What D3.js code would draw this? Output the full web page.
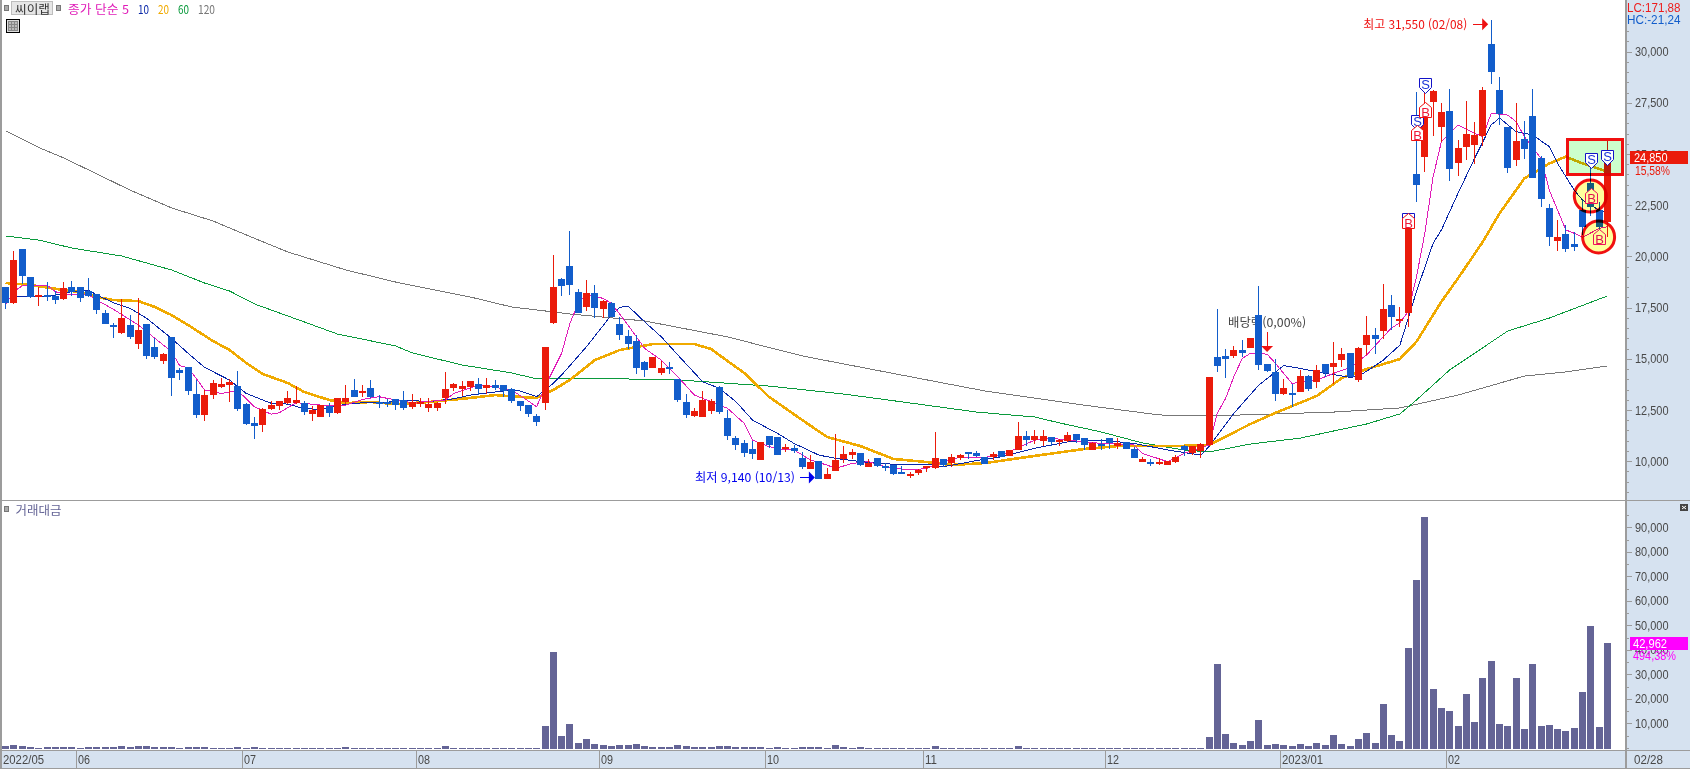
<!DOCTYPE html>
<html lang="ko">
<head>
<meta charset="utf-8">
<title>씨이랩</title>
<script src="https://cdn.jsdelivr.net/npm/d3@7/dist/d3.min.js"></script>
<style>
html,body{margin:0;padding:0;background:#fff;overflow:hidden}
svg{display:block}
text{font-family:"Liberation Sans","Noto Sans CJK KR",sans-serif}
.ko{font-family:"Noto Sans CJK KR",sans-serif}
.crisp{shape-rendering:crispEdges}
</style>
</head>
<body>
<svg id="chart" width="1690" height="769"></svg>
<script>
const stockName = "씨이랩";
const legendItems = ["종가 단순 5","10","20","60","120"];
const opens = [18450,17660,20300,18940,17980,18060,18010,17860,18450,18450,18250,18100,17180,16590,16200,16590,15660,16640,15520,14830,16000,14390,14540,13220,12200,13170,13560,13660,13610,12730,11800,11710,12490,12630,12780,12780,12780,12240,12100,12630,12290,12830,13420,13320,13510,12830,12830,12980,12930,12590,12780,12540,12540,13030,13510,13470,13560,13710,13510,13660,13660,13470,12880,12680,12150,12780,16690,18840,19470,18200,17470,18150,17370,17660,16640,16050,15810,14780,14490,14250,14520,13950,12830,12150,12100,12390,13560,12050,11070,10830,10530,10000,11170,11120,10580,10580,10100,9560,9950,9080,9460,10050,10240,10340,9660,10100,9700,9750,9410,9270,9360,9610,9610,10050,9850,10100,10390,10340,10140,10140,10440,10190,10490,11170,10970,10930,11120,10880,10930,11270,11070,10490,10780,11070,10680,10880,10530,9900,9900,9820,9750,9900,10680,10340,10440,10730,15030,15080,15080,15370,15470,17080,14690,14300,13220,13270,13320,14100,13810,14690,14540,14880,15220,13900,15610,16100,16300,17570,16800,17190,23970,24810,27480,26260,27040,24500,25280,25380,25820,30310,28060,26260,24650,25670,26800,24740,22300,20690,21030,20540,22200,23520,22200,21600];
const highs = [18450,20200,20300,18940,18460,18690,18250,18690,18740,18450,18890,18100,17320,16690,17860,17080,17910,16640,15960,15220,16000,14490,14540,13900,13420,13900,14000,13950,14340,12780,12100,12540,12880,12880,13370,13610,12880,12630,12680,12780,13030,13660,13950,13660,13900,13170,12980,12980,13370,13220,13030,13030,12830,14300,13760,13860,13860,14000,14000,13900,13660,13510,12880,12680,12240,15520,20010,18890,21180,18350,18790,18540,17810,17710,16980,16350,16100,14830,15030,14830,14780,13950,13220,12540,13370,12980,13610,12440,11170,10970,10930,10880,11170,11120,10780,10730,10390,10240,9950,9600,11270,10680,10530,10340,10050,10100,9850,9750,9700,9410,9560,9700,11370,10050,10290,10290,10390,10440,10140,10390,10440,10490,11850,11410,11460,11460,11120,11020,11370,11270,11070,10880,11020,11070,11070,10880,10630,10140,10060,10100,9950,10240,10730,10680,10830,14050,17370,15420,15560,15860,15960,18500,14690,14930,13950,13710,14390,14150,14640,14690,15760,15470,15220,15520,17030,16440,18590,18060,17490,21600,27970,27900,28060,27420,28110,25620,27530,26500,28210,31500,28700,26260,27430,26550,28110,24840,22500,21720,21470,21130,22700,24480,22600,25570];
const lows = [17370,17620,18590,17910,17520,17760,17620,17810,18010,17710,17960,17130,16640,15960,16150,15910,15420,14930,14930,14690,13120,13900,13170,12050,11900,12980,13510,12830,12390,11710,11020,11360,12440,12440,12730,12730,12200,11900,12100,12100,12240,12730,13070,13070,13030,12540,12590,12440,12440,12490,12590,12340,12390,12730,13370,13120,13370,13170,13220,13420,13070,12780,12390,12100,11660,12440,16640,18010,18060,17180,17280,16930,16930,16980,15860,15420,14200,14050,14490,14150,14200,12830,12050,12100,12100,12240,12240,10970,10490,10140,10050,10000,10580,10240,10390,10340,9560,9560,9070,9080,9460,9850,10050,9700,9660,9660,9460,9270,9310,9120,9270,9410,9560,9660,9660,10000,10050,10140,9800,10000,10140,10190,10490,10680,10780,10680,10680,10680,10880,10830,10490,10490,10490,10530,10530,10530,10100,9900,9700,9750,9750,9850,10190,10240,10100,10680,14300,14000,14980,15030,15470,14390,14300,12880,13170,12590,13320,13370,13510,14050,13710,14540,14050,13810,15130,15170,15910,16350,16510,16510,22610,24070,25820,25540,23620,23870,24650,24450,25330,28360,26360,24010,24350,24700,23770,22350,20450,20200,20150,20200,21000,21900,20870,20870];
const closes = [17660,19770,18980,17960,18040,17960,17810,18400,18200,17910,18010,17320,16640,16490,16930,16000,16350,15080,15030,15170,14000,14250,13370,12200,13170,13760,13710,13810,12490,11760,11660,12490,12680,12880,13030,12930,12340,12440,12680,12290,13030,13030,13070,13370,13070,12780,12770,12680,12540,12830,12830,12730,12780,13470,13710,13610,13860,13470,13660,13510,13370,12880,12630,12240,11850,15520,18450,18500,18540,17180,18150,17420,17760,16980,16100,15660,14490,14390,15030,14490,14430,12930,12200,12390,12930,12880,12340,11170,10730,10340,10290,10880,10730,10240,10630,10440,9660,9900,9070,9310,10000,10290,10390,9750,9850,9700,9660,9310,9360,9310,9510,9700,10100,9750,10140,10240,10290,10190,9800,10290,10140,10490,11170,10970,11170,11170,10880,10970,11220,10970,10730,10830,10730,10830,10830,10530,10100,10050,9850,9900,9950,10140,10490,10680,10780,14050,14590,14930,15370,15220,15960,14640,14340,13220,13510,13170,14100,13470,14390,14250,14740,15170,14050,15470,16100,15910,17370,17000,16870,21310,23430,26760,28020,26990,24210,25230,25920,25870,28060,28940,26890,24260,25570,25180,23770,22740,20890,20890,20300,20400,21370,22370,21370,24850];
const volumes = [735,1140,735,330,100,330,330,330,330,100,330,330,330,330,735,330,735,735,330,330,330,100,330,330,330,100,100,100,330,100,330,100,100,100,100,100,100,100,100,100,100,330,100,100,100,100,100,100,100,100,100,100,100,735,100,100,100,100,100,100,100,100,100,100,100,8900,39100,4810,9720,1960,3620,1550,1140,735,1140,1140,1550,735,330,330,330,1140,735,330,300,300,733,733,300,300,300,300,100,300,100,100,300,300,300,100,1140,400,100,400,100,100,100,100,100,100,100,100,733,100,100,100,100,100,100,100,100,100,733,100,100,100,100,100,100,100,100,100,100,100,100,100,100,100,100,100,100,100,100,100,100,4422,34216,5646,1973,1156,2789,11360,1156,1565,1156,748,1565,748,1973,1156,5238,1565,748,3605,6054,1973,17890,5238,2789,40747,68500,94214,24013,16258,15034,8911,21972,10544,28503,35441,9728,8911,28503,7687,34216,8911,9320,7687,6871,8095,22788,49727,8503,42962];

const ma5Idx = [0,1,2,3,4,5,6,7,10,11,13,16,18,20,21,22,24,26,28,30,32,33,35,38,41,43,45,47,49,53,54,57,61,64,65,67,68,69,70,72,73,75,77,79,81,83,85,87,89,90,92,94,95,97,99,100,102,104,106,109,111,113,115,118,120,124,126,130,132,134,136,137,140,142,145,146,147,148,149,150,152,153,155,158,160,162,164,166,167,168,169,170,171,172,173,175,177,178,179,181,182,183,185,186,188,189,190,192,193];
const ma5Val = [17570,18220,18500,18510,18510,18540,18220,18100,18060,17810,17360,16590,15940,15290,14600,14510,13420,13250,13380,12600,12240,12310,12800,12680,12680,12960,13090,12930,12800,12930,13250,13660,13420,12600,13580,15210,16670,17650,18100,17890,17650,16590,15450,14880,14070,13170,12850,12520,11790,10970,10650,10490,10490,10000,9750,9590,9830,9920,9670,9510,9590,9920,10130,10130,10240,10970,11060,10890,10810,10780,10730,10320,9920,10320,10730,12280,13010,14070,14960,15210,15170,14720,13740,13900,14230,14510,15130,16020,16450,16700,17240,18950,21070,23830,25540,26360,25950,25790,26930,26840,26520,25790,24730,23180,21230,21070,20870,21310,21390];
const ma10Idx = [1,5,6,8,10,11,13,15,17,20,22,24,27,29,32,34,36,38,41,44,45,48,51,54,56,60,62,64,66,67,70,73,74,75,77,79,81,84,86,88,90,93,95,98,100,103,107,111,113,117,120,124,128,132,136,140,144,145,148,151,154,156,159,162,163,166,168,169,170,172,173,175,177,179,180,182,184,186,187,189,190,192,193];
const ma10Val = [17980,18010,18060,18220,18300,18060,17680,17410,16920,15940,15210,14520,13900,13250,12770,12730,12510,12470,12720,12830,12770,12930,12850,12990,13170,13370,13370,13090,13740,14150,15530,17080,17450,17520,16750,16020,15130,13820,13500,12850,11950,11300,10810,10240,10080,9920,9790,9790,9670,9970,10160,10570,10890,10970,10810,10490,10240,10650,12280,13660,14610,14470,14230,14040,14070,14880,15610,16920,18230,20580,21230,23020,24730,26360,26700,26030,25870,25300,24480,23180,22690,22200,22040];
const ma20Idx = [0,3,5,7,9,11,13,16,18,20,22,25,27,29,31,34,36,39,41,44,47,51,56,59,62,64,66,68,71,74,78,83,85,87,89,92,96,99,103,107,111,114,118,124,130,134,141,145,150,153,158,161,164,168,170,173,175,178,180,181,183,186,188,190,193];
const ma20Val = [18640,18550,18420,18300,18200,17960,17810,17760,17470,17080,16590,15810,15370,14740,14200,13760,13320,12930,12780,12830,12730,12830,13030,13170,13080,13030,13420,13910,14880,15370,15660,15660,15420,14830,14250,13080,11950,11120,10680,10050,9900,9760,9850,10200,10540,10680,10680,10730,11760,12300,13130,14000,14440,14930,15780,17730,18870,20660,22040,22610,23750,24480,24810,24480,24080];
const ma60Idx = [0,4,8,14,20,24,27,30,36,40,47,49,55,61,64,66,75,76,81,92,101,110,117,124,127,132,137,142,145,150,156,164,168,170,174,181,186,193];
const ma60Val = [20940,20740,20350,19960,19280,18640,18250,17620,16740,16150,15570,15230,14640,14250,13960,13960,13960,13910,13910,13610,13220,12730,12340,12100,11810,11370,10830,10490,10390,10780,11070,11760,12250,12930,14400,16300,16930,18010];
const ma120Idx = [0,4,7,11,15,20,25,29,34,41,47,53,56,61,66,68,77,87,96,106,118,129,139,145,153,160,168,175,183,188,193];
const ma120Val = [26070,25260,24750,23970,23180,22310,21670,20990,20160,19280,18690,18200,17960,17470,17230,17130,16790,16010,15080,14300,13370,12730,12200,12150,12250,12340,12540,13170,14100,14300,14590];

const priceMajor = [10000,12500,15000,17500,20000,22500,25000,27500,30000];
const volumeMajor = [10000,20000,30000,40000,50000,60000,70000,80000,90000];
const monthIdx = [0,9,29,50,72,92,111,133,154,174];
const monthLabels = ["2022/05","06","07","08","09","10","11","12","2023/01","02"];
const lastDateLabel = "02/28";

const sellIdx = [169,170,171,191,193];
const sellVal = [21330,26130,27920,24260,24400];
const buyIdx = [169,170,171,191,192];
const buyVal = [22060,26360,27480,23270,21280];
const circleIdx = [191,192];
const circleVal = [22890,20890];
const boxIdx = [188,195];
const boxVal = [25720,23870];

const W=1690,H=769,axisX=1625;
const COL={red:"#ea1b0b",blue:"#125dcb",vol:"#646496",bg:"#d6e2f0",line:"#9c9c9c",txt:"#484848",mag:"#ff00ff",pure:"#f01010"};
const svg=d3.select("#chart");
const x=d3.scaleLinear().domain([0,193]).range([5.5,1607.4]);
const y=d3.scaleLinear().domain([10000,30000]).range([460,50.4]);
const yVol=d3.scaleLinear().domain([0,90000]).range([747.8,527.3]);
const fmt=d3.format(",");

function label(sel,o){
  const t=sel.append("text").attr("x",o.x).attr("y",o.y).attr("dy","0.36em").attr("fill",o.fill)
    .attr("font-size",o.size||13).text(o.text);
  if(o.ko) t.attr("class","ko");
  if(o.len) t.attr("textLength",o.len).attr("lengthAdjust","spacingAndGlyphs");
  if(o.anchor) t.attr("text-anchor",o.anchor);
  return t;
}

// backgrounds
svg.append("rect").attr("class","crisp").attr("x",axisX).attr("y",0).attr("width",W-axisX).attr("height",750).attr("fill",COL.bg);
svg.append("rect").attr("class","crisp").attr("x",0).attr("y",750).attr("width",W).attr("height",19).attr("fill",COL.bg);

// moving averages
const line=d3.line().x(d=>x(d[0])).y(d=>y(d[1]));
const maSeries=[
 {i:ma120Idx,v:ma120Val,c:"#777777",w:1},
 {i:ma60Idx,v:ma60Val,c:"#0a9a3c",w:1},
 {i:ma20Idx,v:ma20Val,c:"#f0aa00",w:2.6},
 {i:ma10Idx,v:ma10Val,c:"#0a28a8",w:1},
 {i:ma5Idx,v:ma5Val,c:"#e01cb8",w:1}];
svg.append("g").attr("class","mas").selectAll("path").data(maSeries).join("path")
 .attr("class","crisp").attr("fill","none").attr("stroke",d=>d.c).attr("stroke-width",d=>d.w)
 .attr("d",d=>line(d.i.map((k,n)=>[k,d.v[n]])));

// dividend note sits under the candles
const divX=x(152), divTop=y(16250);
label(svg.append("g"),{x:divX-39,y:divTop-9,fill:"#444",text:"배당락(0,00%)",ko:true,size:12,len:78});

// candles
const idx=d3.range(opens.length);
const left=i=>Math.round(x(i)-3.5);
const cg=svg.append("g").attr("class","candles crisp");
cg.selectAll("line").data(idx).join("line")
 .attr("x1",i=>left(i)+3.5).attr("x2",i=>left(i)+3.5)
 .attr("y1",i=>Math.round(y(highs[i]))).attr("y2",i=>Math.round(y(lows[i])))
 .attr("stroke",i=>closes[i]>=opens[i]?COL.red:COL.blue).attr("stroke-width",1);
cg.selectAll("rect").data(idx).join("rect")
 .attr("x",left).attr("width",7)
 .attr("y",i=>Math.round(y(Math.max(opens[i],closes[i]))))
 .attr("height",i=>Math.max(2,Math.round(y(Math.min(opens[i],closes[i])))-Math.round(y(Math.max(opens[i],closes[i])))))
 .attr("fill",i=>closes[i]>=opens[i]?COL.red:COL.blue);

// highlights
const hl=svg.append("g").attr("class","highlights");
hl.append("rect").attr("class","crisp")
 .attr("x",x(boxIdx[0])+1.5).attr("y",y(boxVal[0])+1.5)
 .attr("width",x(boxIdx[1])-x(boxIdx[0])-3).attr("height",y(boxVal[1])-y(boxVal[0])-3)
 .attr("fill","#ccffcc").attr("stroke",COL.pure).attr("stroke-width",3).style("mix-blend-mode","multiply");
hl.selectAll("circle").data(circleIdx).join("circle")
 .attr("cx",i=>x(i)-0.5).attr("cy",(i,n)=>y(circleVal[n])).attr("r",16)
 .attr("fill","#ffff9c").attr("stroke",COL.pure).attr("stroke-width",3).style("mix-blend-mode","multiply");

// signals
const sg=svg.append("g").attr("class","signals");
sellIdx.forEach((k,n)=>{
  const cx=Math.round(x(k))+.5,tip=Math.round(y(sellVal[n]))+.5;
  const g=sg.append("g");
  g.append("path").attr("d",`M${cx-6},${tip-15}H${cx+6}V${tip-6}L${cx},${tip}L${cx-6},${tip-6}Z`)
   .attr("fill","#fff").attr("stroke","#1212c8").attr("stroke-width",1);
  g.append("text").attr("x",cx).attr("y",tip-4.5).attr("text-anchor","middle").attr("font-size",13).attr("fill","#1a35d8").text("S");
});
buyIdx.forEach((k,n)=>{
  const cx=Math.round(x(k))+.5,tip=Math.round(y(buyVal[n]))+.5;
  const inC=circleIdx.includes(k);
  const g=sg.append("g");
  g.append("path").attr("d",`M${cx},${tip}L${cx+6},${tip+5}V${tip+15}H${cx-6}V${tip+5}Z`)
   .attr("fill",inC?"#ffff9c":"#fff").attr("stroke",inC?"#ee1060":"#f01010").attr("stroke-width",1);
  g.append("text").attr("x",cx).attr("y",tip+14).attr("text-anchor","middle").attr("font-size",13).attr("fill",inC?"#e01050":"#f01838").text("B");
});

// annotations
const an=svg.append("g").attr("class","annotations");
const hiX=x(179), hiY=y(31500)+4.5;
label(an,{x:hiX-128,y:hiY,fill:"#ee1111",text:"최고 31,550 (02/08)",ko:true,size:12,len:104});
an.append("path").attr("class","crisp").attr("d",`M${hiX-18},${hiY}H${hiX-6}`).attr("stroke","#ee1111").attr("fill","none");
an.append("path").attr("d",`M${hiX-9},${hiY-6}L${hiX-3},${hiY}L${hiX-9},${hiY+6}Z`).attr("fill","#ee1111");
const loX=x(98), loY=y(9070)-1.5;
label(an,{x:loX-124,y:loY,fill:"#0000ee",text:"최저 9,140 (10/13)",ko:true,size:12,len:100});
an.append("path").attr("class","crisp").attr("d",`M${loX-19},${loY}H${loX-7}`).attr("stroke","#0000ee").attr("fill","none");
an.append("path").attr("d",`M${loX-10},${loY-6}L${loX-4},${loY}L${loX-10},${loY+6}Z`).attr("fill","#0000ee");
an.append("path").attr("class","crisp").attr("d",`M${divX},${divTop}V${divTop+15}`).attr("stroke","#ee1111").attr("fill","none");
an.append("path").attr("d",`M${divX-6},${divTop+14}H${divX+6}L${divX},${divTop+20}Z`).attr("fill","#ee1111");

// volume
svg.append("g").attr("class","volume crisp").selectAll("rect").data(idx).join("rect")
 .attr("x",left).attr("width",7)
 .attr("y",i=>Math.min(748,Math.round(yVol(volumes[i]))))
 .attr("height",i=>749-Math.min(748,Math.round(yVol(volumes[i]))))
 .attr("fill",COL.vol);

// frame lines
const frame=svg.append("g").attr("class","frame crisp");
[[0,500,W,500],[0,750,W,750],[0,768,W,768],[0.5,0,0.5,768],[axisX+0.5,0,axisX+0.5,768]].forEach(l=>{
  const horiz=l[1]===l[3];
  frame.append("line").attr("x1",l[0]).attr("y1",l[1]+(horiz?0.5:0)).attr("x2",l[2]).attr("y2",l[3]+(horiz?0.5:0))
   .attr("stroke",COL.line).attr("stroke-width",horiz?1.5:2);
});

// axes (D3)
function styleAxis(g){
  g.select(".domain").remove();
  g.selectAll("line").attr("stroke",COL.line).attr("shape-rendering","crispEdges");
  g.selectAll("text").attr("fill",COL.txt).attr("font-size",13).attr("x",9)
   .attr("textLength",function(){return this.textContent.length?33.5:null;}).attr("lengthAdjust","spacingAndGlyphs");
}
const priceMinor=d3.range(8500,31001,500).filter(v=>!priceMajor.includes(v));
const gp=svg.append("g").attr("class","price-axis").attr("transform",`translate(${axisX+1},1.2)`);
gp.append("g").call(d3.axisRight(y).tickValues(priceMinor).tickSize(3).tickFormat("")).call(g=>{g.select(".domain").remove();g.selectAll("line").attr("stroke",COL.line).attr("shape-rendering","crispEdges");});
gp.append("g").call(d3.axisRight(y).tickValues(priceMajor).tickSize(6).tickFormat(fmt)).call(styleAxis);
const volMinor=d3.range(0,95001,5000).filter(v=>!volumeMajor.includes(v));
const gv=svg.append("g").attr("class","vol-axis").attr("transform",`translate(${axisX+1},0)`);
gv.append("g").call(d3.axisRight(yVol).tickValues(volMinor).tickSize(3).tickFormat("")).call(g=>{g.select(".domain").remove();g.selectAll("line").attr("stroke",COL.line).attr("shape-rendering","crispEdges");});
gv.append("g").call(d3.axisRight(yVol).tickValues(volumeMajor).tickSize(6).tickFormat(fmt)).call(styleAxis);

// current price / volume tags
const tags=svg.append("g").attr("class","tags");
const lastClose=closes[closes.length-1], lastVol=volumes[volumes.length-1];
const cpY=Math.round(y(lastClose))+1;
tags.append("rect").attr("class","crisp").attr("x",1630).attr("y",cpY-6).attr("width",58).attr("height",13).attr("fill",COL.red);
label(tags,{x:1634,y:cpY+0.5,fill:"#fff",text:fmt(lastClose),len:33.5});
label(tags,{x:1635,y:cpY+13,fill:COL.red,text:"15,58%",len:35});
const cvY=Math.round(yVol(lastVol));
tags.append("rect").attr("class","crisp").attr("x",1630).attr("y",cvY-6).attr("width",58).attr("height",13).attr("fill",COL.mag);
label(tags,{x:1633,y:cvY+0.5,fill:"#fff",text:fmt(lastVol),len:34});
label(tags,{x:1633,y:cvY+12.5,fill:COL.mag,text:"494,38%",len:43});
label(tags,{x:1627,y:7,fill:"#ee1c1c",text:"LC:171,88",len:53.5});
label(tags,{x:1627,y:19,fill:"#125dcb",text:"HC:-21,24",len:53.5});
const mi=tags.append("g").attr("transform","translate(1680,504)");
mi.append("rect").attr("width",8).attr("height",7).attr("fill","#444").attr("class","crisp");
mi.append("path").attr("d","M2,2L6,5M6,2L2,5").attr("stroke","#fff").attr("fill","none");

// date axis
const da=svg.append("g").attr("class","date-axis");
monthIdx.forEach((k,n)=>{
  const px=n===0?1:Math.round(x(k)-4.2);
  if(n>0) da.append("line").attr("class","crisp").attr("x1",px+0.5).attr("x2",px+0.5).attr("y1",750).attr("y2",768).attr("stroke",COL.line).attr("stroke-width",1.5);
  const t=monthLabels[n];
  label(da,{x:px+2,y:759,fill:COL.txt,text:t,len:t.length>2?41:12});
});
label(da,{x:1634,y:759,fill:COL.txt,text:lastDateLabel,len:29});

// legend
const lg=svg.append("g").attr("class","legend");
function sq(px,py){lg.append("rect").attr("class","crisp").attr("x",px+.5).attr("y",py+.5).attr("width",4).attr("height",5).attr("fill","#aaa").attr("stroke","#777");}
sq(4,5);
lg.append("rect").attr("class","crisp").attr("x",11.5).attr("y",1.5).attr("width",41).attr("height",13).attr("fill","#e6e6e6").attr("stroke","#bdbdbd");
label(lg,{x:15,y:9.8,fill:"#333",text:stockName,ko:true,size:12,len:35});
sq(56,5);
const lgX=[68,138,158,178,198],lgW=[61,11,11,11,17],lgC=["#e01cb8","#0a28a8","#f0aa00","#0a9a3c","#777777"];
legendItems.forEach((t,n)=>label(lg,{x:lgX[n],y:9.8,fill:lgC[n],text:t,ko:true,size:12,len:lgW[n]}));
const ic=lg.append("g").attr("transform","translate(6,19)").attr("class","crisp");
ic.append("rect").attr("x",.5).attr("y",.5).attr("width",13).attr("height",13).attr("fill","#ddd").attr("stroke","#000");
ic.append("rect").attr("x",2.5).attr("y",2.5).attr("width",9).attr("height",9).attr("fill","#bbb").attr("stroke","#888");
ic.append("path").attr("d","M5.5,3V11M8.5,3V11M3,5.5H11M3,8.5H11").attr("stroke","#888").attr("fill","none");
sq(4,506);
label(lg,{x:15.5,y:510.5,fill:COL.vol,text:"거래대금",ko:true,size:12,len:46});
</script>
</body>
</html>
